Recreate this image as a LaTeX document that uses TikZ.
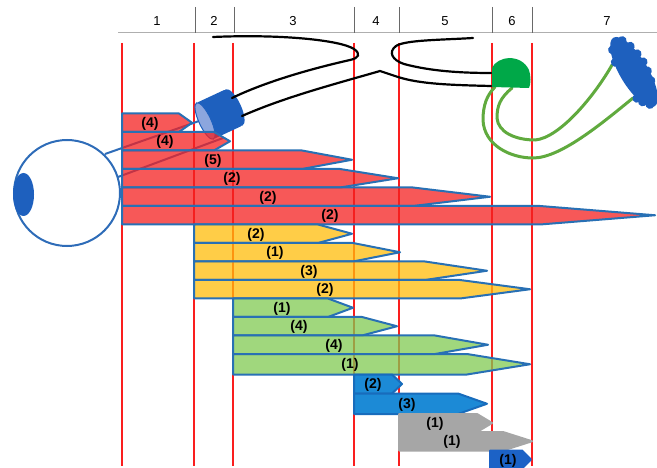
\documentclass[tikz,border=0pt]{standalone}
\usepackage{fontspec}
\setmainfont{Liberation Sans}
\definecolor{stagered}{RGB}{250,30,30}
\definecolor{edgeblue}{RGB}{40,112,180}
\definecolor{fillred}{RGB}{244,32,32}
\definecolor{fillyellow}{RGB}{255,188,10}
\definecolor{fillgreen}{RGB}{128,202,82}
\definecolor{fillblue}{RGB}{28,138,214}
\definecolor{edgedeep}{RGB}{24,108,188}
\definecolor{fillgrey}{RGB}{166,166,166}
\definecolor{filldeep}{RGB}{28,98,198}
\definecolor{eyeblue}{RGB}{46,108,184}
\definecolor{irisblue}{RGB}{30,96,190}
\definecolor{cylface}{RGB}{140,166,222}
\definecolor{domegreen}{RGB}{0,168,72}
\definecolor{fibregreen}{RGB}{96,170,62}
\definecolor{headgrey}{RGB}{175,175,175}
\definecolor{tickgrey}{RGB}{105,105,105}
\tikzset{
  headline/.style={headgrey, line width=1pt},
  headtick/.style={tickgrey, line width=1pt},
  stagelab/.style={font=\fontsize{13}{13}\selectfont, inner sep=0pt},
  stage/.style={stagered, line width=2pt},
  eyeline/.style={eyeblue, line width=2pt},
  fibre/.style={black, line width=2.2pt, line cap=round},
  greenfibre/.style={fibregreen, line width=3pt, line cap=round},
  bar/.style={line width=2pt, line join=round},
  redbar/.style={bar, draw=edgeblue, fill=fillred, fill opacity=0.75},
  yellowbar/.style={bar, draw=edgeblue, fill=fillyellow, fill opacity=0.75},
  greenbar/.style={bar, draw=edgeblue, fill=fillgreen, fill opacity=0.75},
  bluebar/.style={bar, draw=edgedeep, fill=fillblue},
  greybar/.style={bar, draw=fillgrey, fill=fillgrey},
  deepbar/.style={bar, draw=filldeep, fill=filldeep},
  barlab/.style={font=\fontsize{14}{14}\selectfont\bfseries, inner sep=0pt},
}

\begin{document}
\begin{tikzpicture}[x=1pt,y=-1pt]
  \useasboundingbox (0,0) rectangle (657,468);

  \draw[headline] (118,33) -- (657,33);
  \foreach \x in {195,234,354,399,492,532}
    {\draw[headtick] (\x,7) -- (\x,33);}
  \foreach \i/\x in {1/157,2/214,3/293,4/376,5/445,6/512,7/607}
    {\node[stagelab] (s\i) at (\x,21) {\i};}

  \foreach \x in {122,194,233,354,399,492,532}
    {\draw[stage] (\x,43) -- (\x,466);}

  \draw[eyeline] (67,193) circle [radius=53pt];
  \fill[irisblue] (23.5,194.5) ellipse [x radius=10.5pt, y radius=21.5pt];
  \coordinate (raya) at (105,154);
  \coordinate (rayb) at (118,177);
  \coordinate (facea) at (199,121);
  \coordinate (faceb) at (223,138);
  \draw[eyeline] (raya) -- (facea);
  \draw[eyeline] (rayb) -- (faceb);

  \begin{scope}[shift={(205,121)}, rotate=25]
    \fill[irisblue, rounded corners=2pt] (0,-20) rectangle (32,20);
    \fill[irisblue] (32,0) ellipse [x radius=7pt, y radius=20pt];
    \filldraw[fill=cylface, draw=irisblue, line width=1pt]
      (0,0) ellipse [x radius=6pt, y radius=20pt];
  \end{scope}

  \draw[fibre] (213,37) .. controls (280,34) and (340,40) .. (354,49)
    .. controls (361,54) and (359,58) .. (350,60)
    .. controls (310,69) and (265,82) .. (232,98);
  \draw[fibre] (242,116) .. controls (285,97) and (335,84) .. (380,71)
    -- (398,77) .. controls (420,84) and (450,85) .. (491,86);
  \draw[fibre] (473,38) .. controls (440,40) and (405,40) .. (396,46)
    .. controls (388,52) and (392,60) .. (404,64)
    .. controls (430,71) and (460,73) .. (491,73);

  \draw[greenfibre] (495,87) .. controls (487,95) and (483,105) .. (483,120)
    .. controls (484,145) and (510,158) .. (533,158)
    .. controls (560,158) and (600,125) .. (633,98);
  \draw[greenfibre] (512,88) .. controls (500,98) and (497,106) .. (497,118)
    .. controls (498,132) and (515,140) .. (535,140)
    .. controls (560,138) and (595,95) .. (612,65);
  \fill[domegreen] (492,87) -- (492,68) .. controls (497,56) and (521,53) .. (529,70)
    .. controls (531,76) and (531,84) .. (529,88) -- cycle;
  \begin{scope}[shift={(634,72)}, rotate=-59]
    \fill[irisblue] (0,0) ellipse [x radius=40pt, y radius=14pt];
    \foreach \u/\v in {-33/-6,-24/-10,-14/-12,-4/-13,6/-12,16/-10,
                       -30/7,-18/11,30/8,36/3,24/11}
      {\fill[irisblue] (\u,\v) circle [radius=4.5pt];}
  \end{scope}

  \foreach \n/\sty/\xo/\yt/\yb/\xb/\xt/\lx/\num in {
      r1/redbar/122/113.5/132/179/192/150/4,
      r2/redbar/122/132/150.5/214/230/165/4,
      r3/redbar/122/150.5/169/302/352/213/5,
      r4/redbar/122/169/187.5/340/398/232/2,
      r5/redbar/122/187.5/206/413/490/268/2,
      r6/redbar/122/206/224.5/540/655/330/2,
      y1/yellowbar/194/224.5/243/318/352/256/2,
      y2/yellowbar/194/243/261.5/353/400/275/1,
      y3/yellowbar/194/261.5/280/425/487/309/3,
      y4/yellowbar/194/280/298.5/460/530/325/2,
      g1/greenbar/233/298.5/317/328/353/282/1,
      g2/greenbar/233/317/335.5/362/397/299/4,
      g3/greenbar/233/335.5/354/435/488/334/4,
      g4/greenbar/233/354/374.5/467/530/350/1,
      b1/bluebar/354/374.5/393.5/392/402/373/2,
      b2/bluebar/354/393.5/414/458/487/407/3,
      k1/greybar/399/414/432/477/492/435/1,
      k2/greybar/399/432/450.5/503/532/452/1,
      d1/deepbar/490/450.5/468.5/522/531/508/1}
    {\draw[\sty] (\xo,\yt) -- (\xb,\yt) -- (\xt,{(\yt+\yb)/2}) -- (\xb,\yb)
       -- (\xo,\yb) -- cycle;
     \node[barlab] (\n) at (\lx,{(\yt+\yb)/2+1}) {(\num)};}
\end{tikzpicture}
\end{document}
